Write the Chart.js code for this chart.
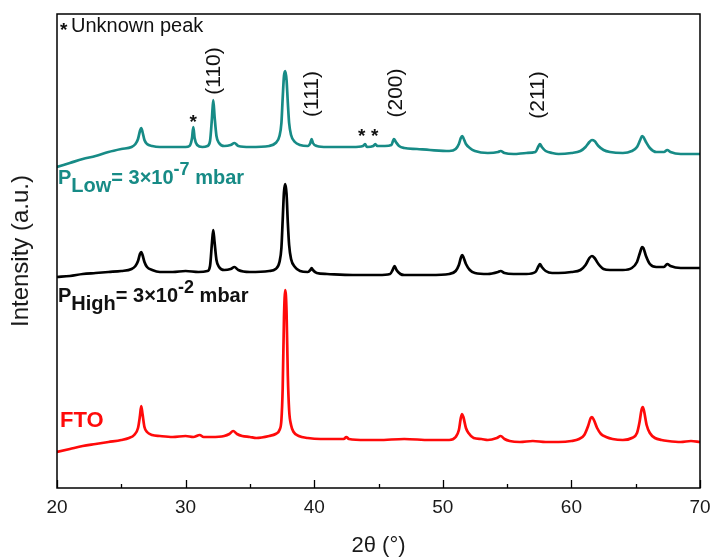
<!DOCTYPE html>
<html>
<head>
<meta charset="utf-8">
<script src="https://cdn.jsdelivr.net/npm/chart.js@4"></script>
<style>
  html, body { margin: 0; padding: 0; background: #fff; }
  #xrd { display: block; }
</style>
</head>
<body>
<canvas id="xrd" width="711" height="559"></canvas>
<script>
// 2θ (deg) / intensity (offset, a.u.) pairs
const ftoPoints = [
  [20, 36], [21, 39], [22, 42], [23, 44], [24, 46], [25, 48], [25.6, 50], [26.0, 53], [26.3, 60], [26.45, 72],
  [26.55, 82], [26.65, 74], [26.8, 61], [27.0, 56], [27.4, 53], [28, 52], [29, 51], [30, 52], [30.6, 51],
  [31.1, 53], [31.4, 51], [32, 51], [33, 52], [33.4, 54], [33.7, 57], [34.0, 54], [34.4, 52], [35, 51],
  [35.5, 50], [36.5, 52], [37.0, 54], [37.3, 58], [37.45, 68], [37.55, 100], [37.65, 170], [37.75, 198],
  [37.85, 176], [37.95, 112], [38.05, 78], [38.2, 63], [38.4, 56], [38.8, 52], [39.5, 50], [40.5, 49],
  [41.5, 49], [42.3, 49], [42.5, 51], [42.7, 49], [44, 48], [45, 48], [47, 49], [49, 48], [50.5, 48],
  [51.0, 51], [51.25, 58], [51.4, 70], [51.5, 74], [51.6, 71], [51.8, 60], [52.0, 55], [52.4, 50], [53, 49],
  [53.5, 48], [54.2, 50], [54.5, 52], [54.8, 49], [55.2, 47], [56, 46], [57, 47], [58, 46], [59, 46], [60, 47],
  [60.6, 49], [61.0, 53], [61.3, 62], [61.5, 70], [61.6, 71], [61.75, 68], [62.0, 60], [62.3, 54], [62.7, 51],
  [63.2, 49], [64, 48], [64.7, 50], [65.1, 55], [65.3, 66], [65.45, 78], [65.55, 81], [65.65, 77], [65.85, 63],
  [66.1, 55], [66.5, 50], [67, 48], [67.5, 47], [68.5, 46], [69.3, 47], [70, 46]
];

const highPoints = [
  [20, 211], [21, 212], [22, 214], [23, 215], [24, 216], [25, 217], [25.8, 219], [26.1, 222], [26.3, 227],
  [26.45, 234], [26.55, 236], [26.65, 233], [26.8, 226], [27.0, 221], [27.4, 218], [28, 216], [29, 216],
  [30, 217], [31, 216], [31.7, 217], [31.9, 222], [32.05, 245], [32.15, 258], [32.25, 246], [32.4, 228],
  [32.6, 221], [33, 218], [33.5, 219], [33.8, 221], [34.1, 218], [35, 216], [36.5, 217], [37.0, 219],
  [37.3, 226], [37.45, 240], [37.55, 268], [37.65, 296], [37.75, 304], [37.85, 294], [37.95, 265],
  [38.05, 243], [38.2, 229], [38.5, 221], [38.9, 217], [39.5, 216], [39.7, 218], [39.8, 220], [39.9, 218],
  [40.2, 215], [41, 214], [43, 213], [45, 213], [45.9, 214], [46.1, 218], [46.25, 222], [46.4, 218],
  [46.7, 214], [47, 213], [49, 213], [50.5, 214], [51.0, 217], [51.25, 223], [51.4, 230], [51.5, 233],
  [51.6, 231], [51.8, 224], [52.1, 218], [52.5, 215], [53.5, 214], [54.3, 216], [54.5, 217], [54.8, 215],
  [55.5, 214], [56.5, 214], [57.2, 216], [57.45, 222], [57.55, 224], [57.7, 221], [58.0, 217], [58.5, 215],
  [59, 215], [60, 216], [60.7, 218], [61.1, 223], [61.4, 230], [61.6, 232], [61.8, 230], [62.1, 224],
  [62.5, 219], [63, 218], [64, 218], [64.7, 220], [65.1, 226], [65.35, 236], [65.5, 241], [65.6, 240],
  [65.8, 232], [66.1, 224], [66.6, 221], [67.2, 221], [67.45, 224], [67.7, 222], [68.5, 220], [70, 220]
];

const lowPoints = [
  [20, 321], [21, 325], [22, 329], [23, 332], [24, 336], [25, 339], [25.8, 341], [26.1, 344], [26.3, 349],
  [26.45, 357], [26.55, 360], [26.65, 356], [26.8, 348], [27.0, 344], [27.4, 342], [28, 341], [29, 341],
  [30, 341], [30.3, 342], [30.5, 350], [30.6, 361], [30.7, 350], [30.9, 343], [31.3, 341], [31.7, 342],
  [31.9, 347], [32.05, 370], [32.15, 388], [32.25, 372], [32.4, 352], [32.6, 345], [33, 342], [33.5, 343],
  [33.8, 345], [34.1, 342], [35, 341], [36.5, 342], [37.0, 345], [37.3, 352], [37.45, 365], [37.55, 390],
  [37.65, 412], [37.75, 417], [37.85, 408], [37.95, 385], [38.05, 365], [38.2, 353], [38.5, 346],
  [38.9, 343], [39.5, 342], [39.7, 345], [39.8, 349], [39.9, 345], [40.2, 342], [41, 341], [42, 341],
  [43, 341], [43.8, 342], [43.95, 344], [44.1, 341], [44.6, 342], [44.75, 344], [44.9, 342], [45.5, 342],
  [46.0, 343], [46.2, 349], [46.35, 346], [46.6, 342], [47, 340], [48, 339], [49, 338], [50.5, 337],
  [51.0, 339], [51.25, 344], [51.4, 350], [51.5, 352], [51.6, 350], [51.8, 344], [52.1, 340], [52.5, 337],
  [53.5, 335], [54.3, 336], [54.5, 337], [54.8, 335], [55.5, 334], [56.5, 335], [57.2, 336], [57.45, 342],
  [57.55, 344], [57.7, 341], [58.0, 337], [58.5, 335], [59, 334], [60, 335], [60.7, 337], [61.1, 341],
  [61.4, 346], [61.6, 348], [61.8, 347], [62.1, 342], [62.5, 338], [63, 336], [64, 335], [64.7, 337],
  [65.1, 341], [65.35, 348], [65.5, 352], [65.6, 351], [65.8, 346], [66.1, 340], [66.6, 336], [67.2, 336],
  [67.45, 338], [67.7, 336], [68.5, 334], [70, 334]
];

const majorTicks = [20, 30, 40, 50, 60, 70];
const minorTicks = [25, 35, 45, 55, 65];

const peakLabels = ['(110)', '(111)', '(200)', '(211)'];
const peakLabelAngles = [32.2, 39.85, 46.4, 57.4];
const peakLabelLevels = [417, 394, 395, 393];

const starAngles = [30.6, 43.7, 44.7];
const starLevels = [371, 357, 357];

const FONT = '"Liberation Sans", Arial, sans-serif';
const TEAL = '#178b86';
const RED = '#ff0a0a';

function toXY(points) {
  return points.map(([a, v]) => ({ x: a, y: v }));
}

function series(points, color) {
  return {
    data: toXY(points),
    borderColor: color,
    backgroundColor: color,
    borderWidth: 2.7,
    pointRadius: 0,
    showLine: true,
    cubicInterpolationMode: 'monotone',
    fill: false,
  };
}

// draws: box frame, inward ticks, peak labels, stars and sample labels
const decorations = {
  id: 'decorations',
  afterDraw(chart) {
    const { ctx, chartArea: a, scales: { x, y } } = chart;
    ctx.save();

    ctx.strokeStyle = '#000';
    ctx.lineWidth = 1.5;
    ctx.strokeRect(a.left, a.top, a.right - a.left, a.bottom - a.top);

    ctx.lineWidth = 1.3;
    ctx.beginPath();
    majorTicks.forEach((v) => {
      const px = Math.round(x.getPixelForValue(v)) + 0.5;
      ctx.moveTo(px, a.bottom);
      ctx.lineTo(px, a.bottom - 8);
    });
    minorTicks.forEach((v) => {
      const px = Math.round(x.getPixelForValue(v)) + 0.5;
      ctx.moveTo(px, a.bottom);
      ctx.lineTo(px, a.bottom - 4);
    });
    ctx.stroke();

    // Miller indices, rotated
    ctx.fillStyle = '#111';
    ctx.font = '21px ' + FONT;
    ctx.textAlign = 'center';
    ctx.textBaseline = 'middle';
    peakLabels.forEach((lbl, i) => {
      ctx.save();
      ctx.translate(x.getPixelForValue(peakLabelAngles[i]), y.getPixelForValue(peakLabelLevels[i]));
      ctx.rotate(-Math.PI / 2);
      ctx.fillText(lbl, 0, 0);
      ctx.restore();
    });

    // unknown peak stars
    ctx.font = 'bold 19px ' + FONT;
    ctx.textBaseline = 'alphabetic';
    starAngles.forEach((ang, i) => {
      ctx.fillText('*', x.getPixelForValue(ang), y.getPixelForValue(starLevels[i]) + 11);
    });

    // legend note
    ctx.textAlign = 'left';
    ctx.fillText('*', a.left + 3, 36);
    ctx.font = '20px ' + FONT;
    ctx.fillText('Unknown peak', a.left + 14, 32);

    // sample labels
    function pressure(x0, base, sub, exp, color) {
      ctx.fillStyle = color;
      let cx = x0;
      ctx.font = 'bold 20px ' + FONT;
      ctx.fillText('P', cx, base);
      cx += ctx.measureText('P').width;
      ctx.fillText(sub, cx, base + 8);
      cx += ctx.measureText(sub).width;
      ctx.fillText('= 3\u00d710', cx, base);
      cx += ctx.measureText('= 3\u00d710').width;
      ctx.font = 'bold 18px ' + FONT;
      ctx.fillText(exp, cx, base - 9);
      cx += ctx.measureText(exp).width;
      ctx.font = 'bold 20px ' + FONT;
      ctx.fillText(' mbar', cx, base);
    }
    pressure(a.left + 1, 184, 'Low', '-7', TEAL);
    pressure(a.left + 1, 302, 'High', '-2', '#111');

    ctx.fillStyle = RED;
    ctx.font = 'bold 22px ' + FONT;
    ctx.fillText('FTO', a.left + 3, 427);

    ctx.restore();
  }
};

new Chart(document.getElementById('xrd'), {
  type: 'scatter',
  data: {
    datasets: [
      series(ftoPoints, RED),
      series(highPoints, '#000'),
      series(lowPoints, TEAL),
    ]
  },
  options: {
    responsive: false,
    animation: false,
    layout: { padding: { top: 14, right: 11, left: 0, bottom: 0 } },
    plugins: { legend: { display: false }, tooltip: { enabled: false } },
    scales: {
      x: {
        type: 'linear', min: 20, max: 70,
        afterFit: (s) => { s.height = 71; s.paddingRight = 0; s.paddingLeft = 0; },
        grid: { display: false, drawTicks: false },
        border: { display: false },
        ticks: { stepSize: 10, padding: 8, color: '#1a1a1a', font: { family: FONT, size: 19 } },
        title: { display: true, text: '2\u03b8 (\u00b0)', color: '#1a1a1a', padding: { top: 0, bottom: 0 },
                 font: { family: FONT, size: 22 } }
      },
      y: {
        type: 'linear', min: 0, max: 474,
        afterFit: (s) => { s.width = 57; },
        grid: { display: false, drawTicks: false },
        border: { display: false },
        ticks: { display: false },
        title: { display: true, text: 'Intensity (a.u.)', color: '#1a1a1a', padding: { top: 7, bottom: 0 },
                 font: { family: FONT, size: 24 } }
      }
    }
  },
  plugins: [decorations]
});
</script>
</body>
</html>
